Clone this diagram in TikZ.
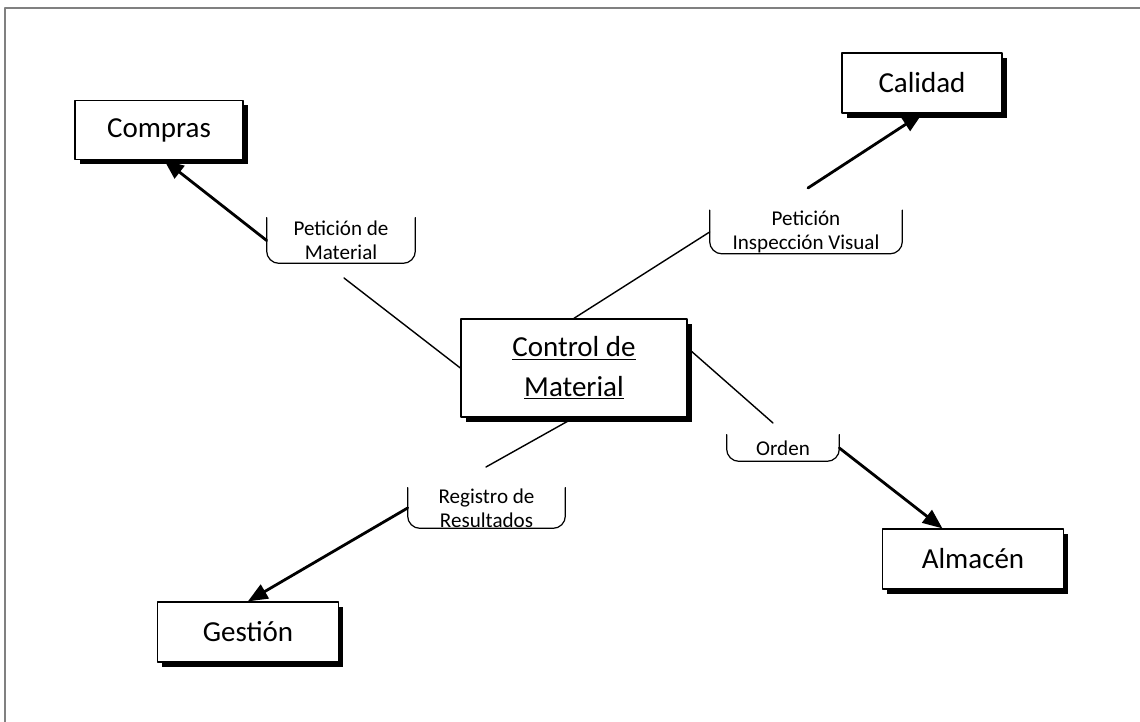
\documentclass[tikz,border=0pt]{standalone}
\usepackage{fontspec}
\setmainfont{Carlito}
\usepackage{tikz}
\usetikzlibrary{arrows}
\usetikzlibrary{shadows}

\begin{document}
\begin{tikzpicture}[x=0.02cm,y=-0.02cm,line cap=round,line join=round,>=triangle 45,
    caja/.style={draw,fill=white,line width=0.8pt,inner sep=0pt,align=center,
      font=\fontsize{16.5}{22.7}\selectfont,
      drop shadow={opacity=1,fill=black,shadow xshift=2.6pt,shadow yshift=-2.6pt}},
    etiqueta/.style={inner sep=0pt,align=center,font=\fontsize{12}{13.6}\selectfont},
    corchete/.style={line width=0.7pt,rounded corners=7pt},
    flujo/.style={->,line width=1.6pt},
    enlace/.style={line width=0.8pt}]
        \useasboundingbox (0,0) rectangle (1140,722);
        \draw[color=gray,line width=1.2pt] (5,722) -- (5,8) -- (1140,8);
        % cajas
        \node[caja,minimum width=3.36cm,minimum height=1.18cm] (compras) at (159,130) {Compras};
        \node[caja,minimum width=3.2cm,minimum height=1.2cm] (calidad) at (922,83) {Calidad};
        \node[caja,minimum width=4.52cm,minimum height=1.96cm] (control) at (574,368) {\underline{Control de}\\\underline{Material}};
        \node[caja,minimum width=3.62cm,minimum height=1.2cm] (almacen) at (973,559) {Almacén};
        \node[caja,minimum width=3.62cm,minimum height=1.2cm] (gestion) at (248,632) {Gestión};
        % etiquetas
        \node[etiqueta,minimum width=2.96cm,minimum height=0.9cm] (lblcompras) at (341,240.5) {Petición de\\Material};
        \node[etiqueta,minimum width=3.84cm,minimum height=0.86cm] (lblcalidad) at (806,232) {Petición\\Inspección Visual};
        \node[etiqueta,minimum width=3.14cm,minimum height=0.8cm] (lblgestion) at (486.5,508) {Registro de\\Resultados};
        \node[etiqueta,minimum width=2.24cm,minimum height=0.52cm] (lblalmacen) at (783,448) {Orden};
        \foreach \e in {lblcompras,lblcalidad,lblgestion,lblalmacen}
          \draw[corchete] (\e.north west) -- (\e.south west) -- (\e.south east) -- (\e.north east);
        % extremos libres
        \coordinate (fincompras) at (344,278);
        \coordinate (inicalidad) at (808,188);
        \coordinate (finalmacen) at (773,423);
        \coordinate (fingestion) at (486,467);
        % conexiones
        \draw[enlace] (control.west) -- (fincompras);
        \draw[flujo] (lblcompras.west) -- ([xshift=3pt]compras.south);
        \draw[enlace] (control.north) -- (lblcalidad.west);
        \draw[flujo] (inicalidad) -- (calidad.south);
        \draw[enlace] (control.10) -- (finalmacen);
        \draw[flujo] (lblalmacen.east) -- (almacen.135);
        \draw[enlace] (control.south) -- (fingestion);
        \draw[flujo] (lblgestion.west) -- (gestion.north);
\end{tikzpicture}
\end{document}
